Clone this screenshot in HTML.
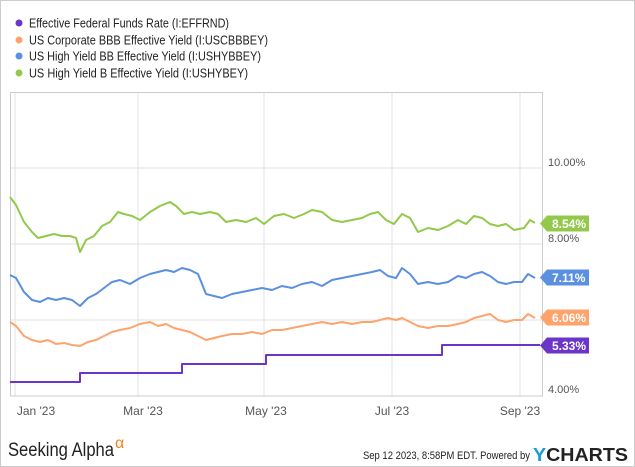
<!DOCTYPE html>
<html><head><style>
body{margin:0;background:#fff;}
svg{display:block;font-family:"Liberation Sans",sans-serif;}
</style></head><body>
<svg width="635" height="467" viewBox="0 0 635 467">
<rect x="0.5" y="0.5" width="634" height="466" fill="#fff" stroke="#ccc"/>
<g font-size="13" fill="#222" lengthAdjust="spacingAndGlyphs">
<circle cx="19" cy="23" r="3.5" fill="#6a35c8"/><text x="29" y="27.5" textLength="200" lengthAdjust="spacingAndGlyphs">Effective Federal Funds Rate (I:EFFRND)</text>
<circle cx="19" cy="40" r="3.5" fill="#ffa36c"/><text x="29" y="44.5" textLength="239" lengthAdjust="spacingAndGlyphs">US Corporate BBB Effective Yield (I:USCBBBEY)</text>
<circle cx="19" cy="56" r="3.5" fill="#5b8fdf"/><text x="29" y="60.5" textLength="232" lengthAdjust="spacingAndGlyphs">US High Yield BB Effective Yield (I:USHYBBEY)</text>
<circle cx="19" cy="73" r="3.5" fill="#93c94b"/><text x="29" y="77.5" textLength="219" lengthAdjust="spacingAndGlyphs">US High Yield B Effective Yield (I:USHYBEY)</text>
</g>
<g stroke="#e2e2e2" stroke-width="1">
<line x1="15" y1="92" x2="15" y2="396"/><line x1="138" y1="92" x2="138" y2="396"/><line x1="264" y1="92" x2="264" y2="396"/><line x1="392" y1="92" x2="392" y2="396"/><line x1="520" y1="92" x2="520" y2="396"/>
<line x1="10" y1="168" x2="543" y2="168"/><line x1="10" y1="244" x2="543" y2="244"/><line x1="10" y1="320" x2="543" y2="320"/>
</g>
<rect x="10.5" y="92.5" width="532" height="303.5" fill="none" stroke="#ccc"/>
<g fill="none" stroke-width="2" stroke-linejoin="round">
<polyline stroke="#93c94b" points="10,197 16,205 24,222 32,232 38,238 46,236 54,234 62,236 70,236 76,238 80,252 86,240 94,236 102,226 110,222 118,212 124,214 132,216 140,220 150,212 160,206 170,202 176,206 184,214 192,212 200,214 210,212 218,214 226,222 236,220 246,222 256,218 264,224 274,216 284,214 294,218 304,214 312,210 322,212 332,220 342,222 352,220 362,218 370,214 378,212 386,220 394,224 402,214 410,218 418,232 428,228 438,230 448,226 458,220 466,224 474,216 482,218 490,224 498,226 506,224 514,230 524,228 530,220 535,223"/>
<polyline stroke="#5b8fdf" points="10,275 16,278 24,292 32,300 40,302 48,298 56,300 64,298 72,300 80,306 88,298 96,294 104,288 112,282 120,280 130,284 140,278 150,274 158,272 166,270 174,272 182,268 190,270 198,274 206,294 214,296 222,298 232,294 242,292 252,290 262,288 272,290 282,286 292,288 302,284 312,282 322,286 332,280 342,278 352,276 362,274 372,272 380,270 388,276 396,278 402,268 410,274 418,284 428,282 438,284 448,282 458,276 466,278 474,274 482,272 490,276 498,282 506,284 514,282 522,282 528,274 535,278"/>
<polyline stroke="#ffa36c" points="10,322 16,326 24,336 32,340 40,342 48,340 56,344 64,343 72,345 80,346 88,342 96,340 104,336 112,332 120,330 130,328 140,324 150,322 158,326 166,324 174,328 182,330 190,332 198,336 206,340 214,338 222,336 232,334 242,334 252,332 262,334 272,330 282,330 292,328 302,326 312,324 322,322 332,324 342,322 352,324 362,322 372,322 380,320 388,318 396,320 402,318 410,322 418,326 428,328 438,326 448,326 458,324 466,322 474,318 482,316 490,314 498,320 506,322 514,320 522,320 528,314 535,318"/>
<polyline stroke="#6a35c8" points="10,382 80,382 80,373 182,373 182,364 266,364 266,355 442,355 442,345 540,345"/>
</g>
<g font-size="11" fill="#555">
<text x="548" y="166">10.00%</text><text x="548" y="242">8.00%</text><text x="548" y="393">4.00%</text>
</g>
<g font-size="12" fill="#fff" font-weight="bold">
<polygon points="540,223.5 547,215.5 589,215.5 589,231.5 547,231.5" fill="#93c94b"/><text x="552" y="228">8.54%</text>
<polygon points="540,277.5 547,269.5 589,269.5 589,285.5 547,285.5" fill="#5b8fdf"/><text x="552" y="282">7.11%</text>
<polygon points="540,317.5 547,309.5 589,309.5 589,325.5 547,325.5" fill="#ffa36c"/><text x="552" y="322">6.06%</text>
<polygon points="540,345.5 547,337.5 589,337.5 589,353.5 547,353.5" fill="#6a35c8"/><text x="552" y="350">5.33%</text>
</g>
<g font-size="12" fill="#555" text-anchor="middle">
<text x="36" y="415">Jan '23</text><text x="143" y="415">Mar '23</text><text x="266" y="415">May '23</text><text x="392" y="415">Jul '23</text><text x="520" y="415">Sep '23</text>
</g>
<text x="8" y="456" font-size="19" fill="#222" textLength="106" lengthAdjust="spacingAndGlyphs">Seeking Alpha</text>
<text x="115" y="448" font-size="16" fill="#f58220">α</text>
<text x="363" y="459" font-size="11" fill="#222" textLength="167" lengthAdjust="spacingAndGlyphs">Sep 12 2023, 8:58PM EDT.  Powered by</text>
<text x="533" y="461" font-size="18" font-weight="bold" fill="#222" textLength="95" lengthAdjust="spacingAndGlyphs"><tspan fill="#1a9be0">Y</tspan>CHARTS</text>
</svg>
</body></html>
